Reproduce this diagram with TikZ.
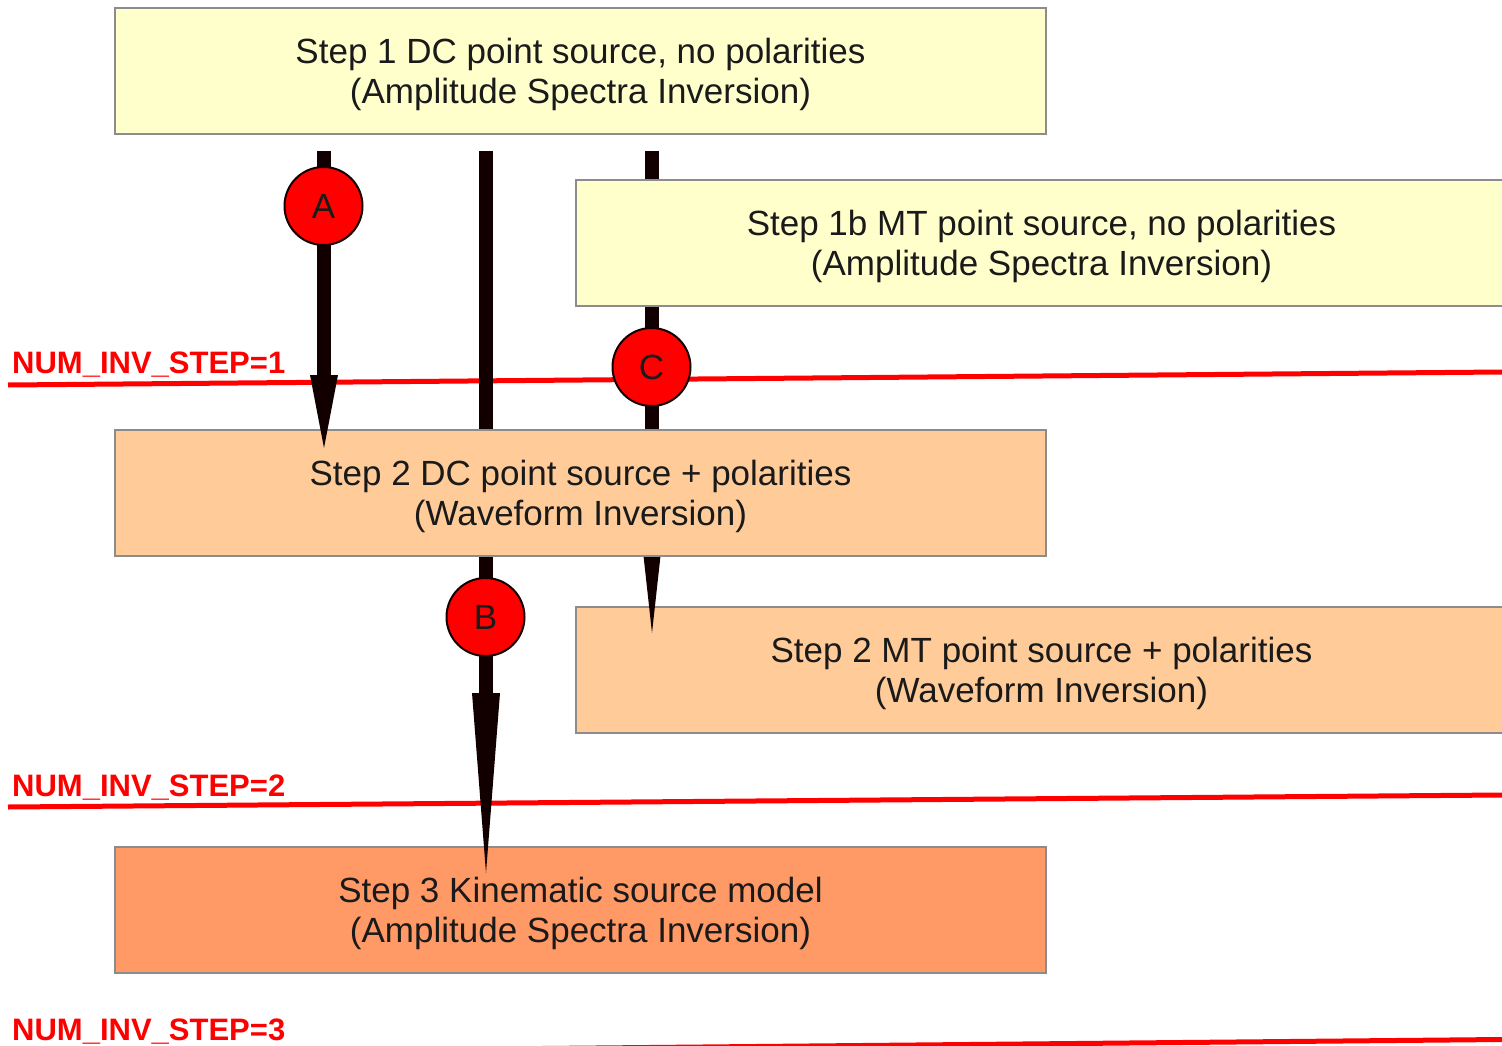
\documentclass[tikz,border=0pt]{standalone}
\usepackage{fontspec}
\setmainfont{Liberation Sans}
\usetikzlibrary{arrows.meta}
\definecolor{shaft}{RGB}{18,0,0}
\definecolor{pale}{RGB}{255,255,204}
\definecolor{peach}{RGB}{255,204,153}
\definecolor{salmon}{RGB}{255,153,102}
\definecolor{txt}{RGB}{26,26,26}
\definecolor{edge}{RGB}{140,140,140}
\begin{document}
\begin{tikzpicture}[x=1pt,y=-1pt,
 stepbox/.style={draw=edge, line width=1.5pt, minimum width=931pt, minimum height=126pt, inner sep=0pt, align=center, text=txt, text depth=1pt, font=\fontsize{35}{40}\selectfont},
 badge/.style={circle, draw=shaft, line width=2pt, fill=red, minimum size=78pt, inner sep=0pt, text=txt, font=\fontsize{35}{40}\selectfont},
 level/.style={draw=red, line width=5pt},
 levellabel/.style={anchor=base west, text=red, font=\bfseries\fontsize{31}{31}\selectfont, inner sep=0pt},
 conn/.style={draw=shaft, line width=14pt}]
\useasboundingbox (0,0) rectangle (1502,1046);
\clip (0,0) rectangle (1502,1046);
% level lines
\coordinate (l1a) at (8,385); \coordinate (l1b) at (1502,372);
\coordinate (l2a) at (8,807); \coordinate (l2b) at (1502,795);
\coordinate (l3a) at (8,1053.5); \coordinate (l3b) at (1502,1039.5);
\draw[level] (l1a) -- (l1b);
\draw[level] (l2a) -- (l2b);
\draw[level] (l3a) -- (l3b);
\node[levellabel] (t1) at (12,373) {NUM\_INV\_STEP=1};
\node[levellabel] (t2) at (12,796) {NUM\_INV\_STEP=2};
\node[levellabel] (t3) at (12,1040) {NUM\_INV\_STEP=3};
% boxes behind connectors
\node[stepbox, fill=pale] (s1) at (580.5,71) {Step 1 DC point source, no polarities\\(Amplitude Spectra Inversion)};
\node[stepbox, fill=peach] (s2mt) at (1041.5,670) {Step 2 MT point source + polarities\\(Waveform Inversion)};
\node[stepbox, fill=salmon] (s3) at (580.5,910) {Step 3 Kinematic source model\\(Amplitude Spectra Inversion)};
% connectors partly hidden
\coordinate (m0) at (486,151); \coordinate (m1) at (486,873);
\coordinate (c0) at (652,151); \coordinate (c1) at (652,633);
\draw[conn, -{Triangle[length=180pt,width=28pt,line width=0pt]}] (m0) -- (m1);
\draw[conn, -{Triangle[length=127pt,width=28pt,line width=0pt]}] (c0) -- (c1);
% boxes in front
\node[stepbox, fill=pale] (s1b) at (1041.5,243) {Step 1b MT point source, no polarities\\(Amplitude Spectra Inversion)};
\node[stepbox, fill=peach] (s2) at (580.5,493) {Step 2 DC point source + polarities\\(Waveform Inversion)};
% connector A
\coordinate (a0) at (324,151); \coordinate (a1) at (324,448);
\draw[conn, -{Triangle[length=73pt,width=28pt,line width=0pt]}] (a0) -- (a1);
% badges
\node[badge] (ba) at (323.5,206) {A};
\node[badge] (bb) at (485.5,617) {B};
\node[badge] (bc) at (651.5,367) {C};
\end{tikzpicture}
\end{document}
